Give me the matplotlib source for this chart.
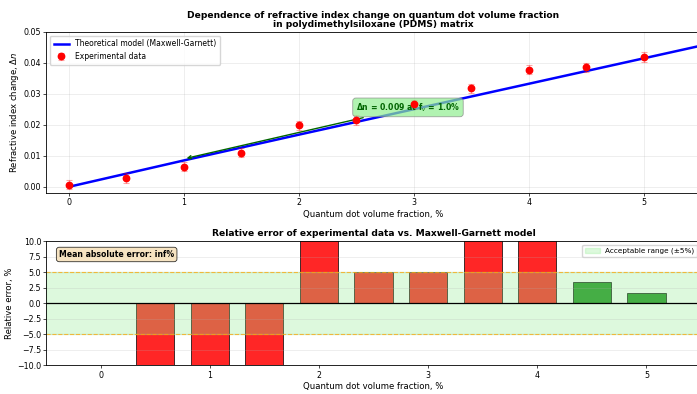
import numpy as np
import matplotlib
matplotlib.use('Agg')
import matplotlib.pyplot as plt

# Experimental data (volume fraction %, refractive index change)
frac_exp = [0.0, 0.5, 1.0, 1.5, 2.0, 2.5, 3.0, 3.5, 4.0, 4.5, 5.0]
dn_exp = [0.0007, 0.0028, 0.0065, 0.0110, 0.0198, 0.0215, 0.0266, 0.0318, 0.0378, 0.0385, 0.0418]
dn_err = [0.0015, 0.0015, 0.0015, 0.0015, 0.0015, 0.0015, 0.0015, 0.0015, 0.0015, 0.0015, 0.0015]

# Maxwell-Garnett model curve
frac_model = [0.0, 1.0, 2.0, 3.0, 4.0, 5.0, 5.5]
dn_model = [0.0, 0.0085, 0.0168, 0.0250, 0.0332, 0.0414, 0.0455]

# Relative error of data vs model, %
frac_bars = [0.0, 0.5, 1.0, 1.5, 2.0, 2.5, 3.0, 3.5, 4.0, 4.5, 5.0]
rel_err = [np.inf, -32.0, -22.0, -12.0, 19.0, 5.05, 5.1, 12.0, 14.0, 3.4, 1.6]
err_ticks = [-10.0, -7.5, -5.0, -2.5, 0.0, 2.5, 5.0, 7.5, 10.0]

# sizes (small figure, everything scaled down)
fs_tick = 5.7
fs_label = 6.1
fs_title = 6.6
fs_leg = 5.5

plt.rcParams.update({
    'xtick.labelsize': fs_tick, 'ytick.labelsize': fs_tick,
    'xtick.major.size': 2, 'ytick.major.size': 2,
    'xtick.major.pad': 1.8, 'ytick.major.pad': 1.5,
    'xtick.major.width': 0.5, 'ytick.major.width': 0.5,
    'axes.linewidth': 0.6, 'axes.labelpad': 2,
})

fig = plt.figure(figsize=(6.97, 3.94), dpi=100)
ax1 = fig.add_axes([46 / 697, (394 - 193) / 394, 655 / 697, 161.3 / 394])
ax2 = fig.add_axes([46 / 697, (394 - 365.3) / 394, 655 / 697, 124 / 394])

# --- top: refractive index change ---
ax1.plot(frac_model, dn_model, color='blue', lw=1.8, label='Theoretical model (Maxwell-Garnett)')
ax1.errorbar(frac_exp, dn_exp, yerr=dn_err, fmt='o', color='red', markersize=4.6,
             ecolor=(1, 0, 0, 0.35), capsize=2.2, elinewidth=0.8, capthick=0.8,
             label='Experimental data', zorder=3)
ax1.annotate('Δn = 0.009 at f$_v$ = 1.0%', xy=(1.0, 0.009), xytext=(2.95, 0.0256),
             ha='center', va='center', fontsize=5.6, fontweight='bold', color='darkgreen',
             bbox=dict(boxstyle='round,pad=0.4', facecolor='lightgreen', alpha=0.7,
                       edgecolor='gray', lw=0.6),
             arrowprops=dict(arrowstyle='->', color='darkgreen', lw=1.0))
ax1.set_xlim(-0.2, 5.5)
ax1.set_ylim(-0.002, 0.05)
ax1.set_xlabel('Quantum dot volume fraction, %', fontsize=fs_label)
ax1.set_ylabel('Refractive index change, $\\Delta n$', fontsize=fs_label)
ax1.set_title('Dependence of refractive index change on quantum dot volume fraction\n'
              'in polydimethylsiloxane (PDMS) matrix', fontsize=fs_title, fontweight='bold',
              linespacing=1.0, pad=3.5)
ax1.legend(loc='upper left', fontsize=fs_leg, framealpha=0.8, borderpad=0.5)
ax1.grid(alpha=0.3, lw=0.5)

# --- bottom: relative error ---
fin = [(f, e) for f, e in zip(frac_bars, rel_err) if np.isfinite(e)]
bx = [f for f, e in fin]
by = [e for f, e in fin]
colors = ['red' if abs(e) > 5 else 'green' for e in by]
ax2.bar(bx, by, width=0.35, color=colors, alpha=0.85, edgecolor='black', linewidth=0.6)
ax2.axhline(0, color='black', lw=0.9)
ax2.axhspan(-5, 5, color='lightgreen', alpha=0.3, label='Acceptable range (±5%)')
ax2.axhline(5, color='orange', ls='--', lw=0.8, alpha=0.7)
ax2.axhline(-5, color='orange', ls='--', lw=0.8, alpha=0.7)
mae = np.mean(np.abs(rel_err))
ax2.text(0.02, 0.93, f'Mean absolute error: {mae:.1f}%', transform=ax2.transAxes,
         va='top', fontsize=5.6, fontweight='bold',
         bbox=dict(boxstyle='round,pad=0.35', facecolor='wheat', alpha=0.8, lw=0.6))
ax2.set_xlim(-0.5, 5.5)
ax2.set_ylim(-10, 10)
ax2.set_yticks(err_ticks)
ax2.set_xlabel('Quantum dot volume fraction, %', fontsize=fs_label)
ax2.set_ylabel('Relative error, %', fontsize=fs_label)
ax2.set_title('Relative error of experimental data vs. Maxwell-Garnett model',
              fontsize=fs_title, fontweight='bold', pad=3.5)
ax2.legend(loc='upper right', fontsize=fs_leg - 0.3, framealpha=0.8)
ax2.grid(axis='y', alpha=0.3, lw=0.5)

plt.savefig('out.png', dpi=100)
